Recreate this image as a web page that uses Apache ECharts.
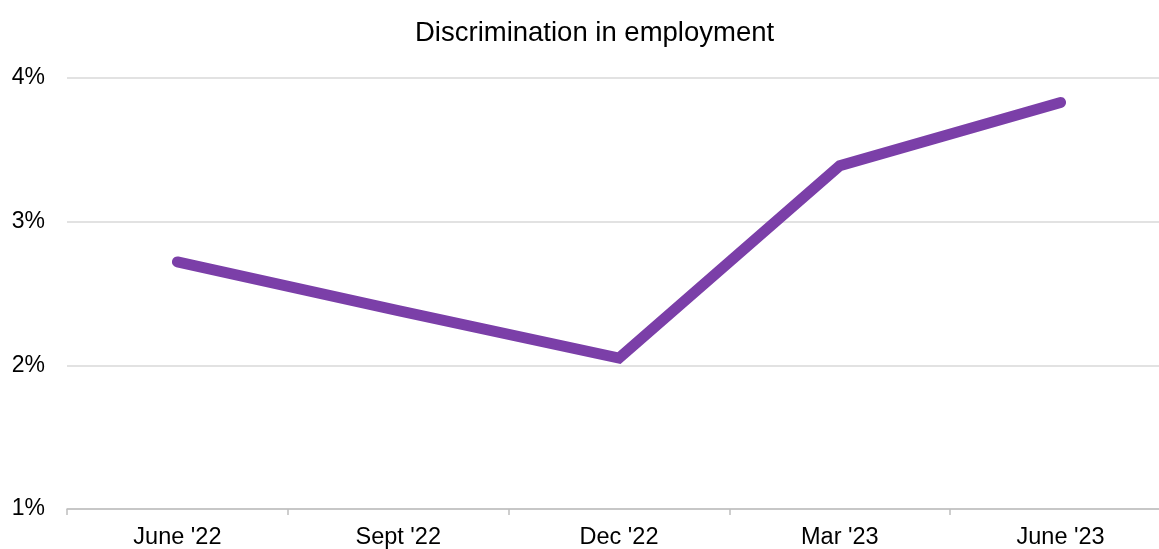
<!DOCTYPE html>
<html><head><meta charset="utf-8">
<script src="https://cdn.jsdelivr.net/npm/echarts@6/dist/echarts.min.js"></script>
<style>html,body{margin:0;padding:0;background:#fff}#c{width:1159px;height:549px}</style>
</head><body><div id="c"></div>
<script>
const categories = ["June '22", "Sept '22", "Dec '22", "Mar '23", "June '23"];
const values = [2.72, 2.38, 2.05, 3.39, 3.83];
const yTicks = [1, 2, 3, 4];
const chart = echarts.init(document.getElementById('c'));
chart.setOption({
  animation: false,
  title: {
    text: 'Discrimination in employment',
    left: 410, top: 14,
    textStyle: { fontFamily: 'Liberation Sans, Arial', fontSize: 27.5, fontWeight: 'normal', color: '#000' }
  },
  grid: { left: 67, width: 1104, top: 78, bottom: 40, containLabel: false, outerBoundsMode: 'none' },
  xAxis: {
    type: 'category', data: categories, boundaryGap: true,
    axisLine: { lineStyle: { color: '#bfbfbf', width: 1.5 } },
    axisTick: { show: true, length: 6, lineStyle: { color: '#bfbfbf', width: 1.5 } },
    axisLabel: { color: '#000', fontFamily: 'Liberation Sans, Arial', fontSize: 23.5, margin: 17 }
  },
  yAxis: {
    type: 'value', min: yTicks[0], max: yTicks[yTicks.length - 1], interval: 1,
    axisLine: { show: false }, axisTick: { show: false },
    splitLine: { lineStyle: { color: '#d9d9d9', width: 1.5 } },
    axisLabel: { color: '#000', fontFamily: 'Liberation Sans, Arial', fontSize: 23, margin: 22, formatter: v => v + '%' }
  },
  series: [{
    type: 'line', data: values, symbol: 'none',
    lineStyle: { color: '#7B3FA8', width: 11, cap: 'round', join: 'miter' }
  }]
});
</script></body></html>
